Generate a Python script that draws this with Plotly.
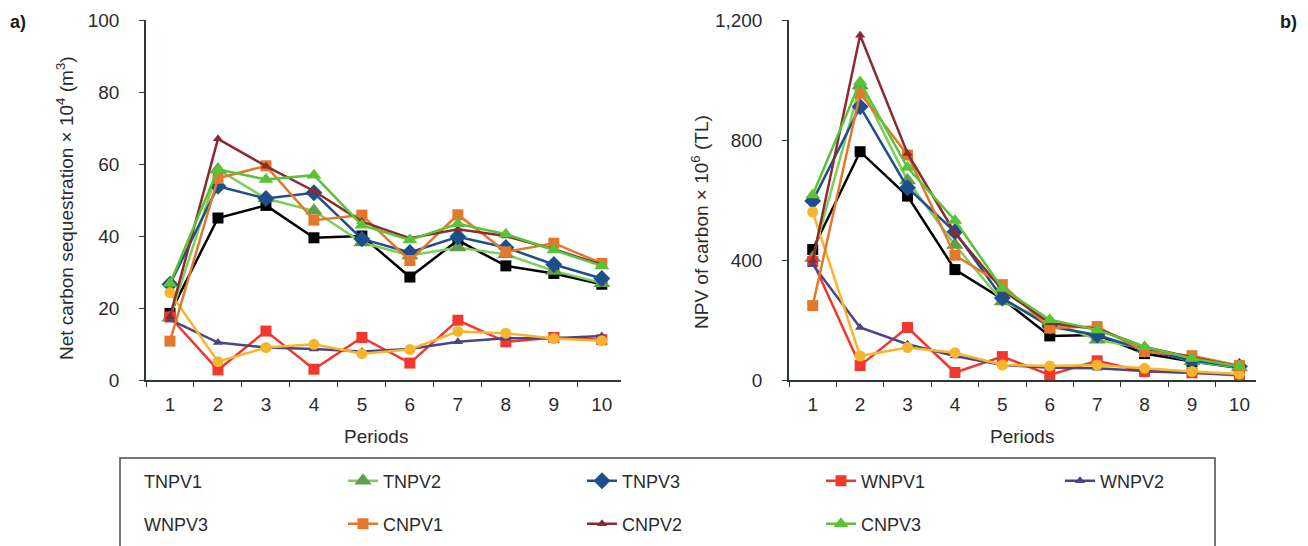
import plotly.graph_objects as go

W, H = 1308, 546

periods = ["1", "2", "3", "4", "5", "6", "7", "8", "9", "10"]
series_names = ["TNPV1", "TNPV2", "TNPV3", "WNPV1", "WNPV2", "WNPV3", "CNPV1", "CNPV2", "CNPV3"]

# a) Net carbon sequestration x 10^4 (m3)
seq_TNPV1 = [18.5, 45.0, 48.5, 39.5, 40.0, 28.6, 38.8, 31.7, 29.6, 26.6]
seq_TNPV2 = [17.3, 58.5, 50.4, 47.0, 38.2, 34.6, 36.8, 34.9, 30.3, 26.9]
seq_TNPV3 = [26.6, 53.8, 50.4, 52.0, 39.2, 35.4, 39.8, 36.8, 32.1, 28.2]
seq_WNPV1 = [17.5, 2.8, 13.6, 3.0, 11.8, 4.7, 16.6, 10.6, 11.8, 11.2]
seq_WNPV2 = [16.8, 10.4, 9.0, 8.6, 7.9, 8.6, 10.6, 11.6, 11.6, 12.2]
seq_WNPV3 = [24.3, 5.1, 9.0, 9.9, 7.3, 8.5, 13.5, 13.0, 11.5, 10.9]
seq_CNPV1 = [10.8, 56.0, 59.5, 44.4, 45.8, 33.2, 45.9, 35.6, 38.0, 32.4]
seq_CNPV2 = [17.6, 67.0, 59.4, 52.5, 44.0, 39.4, 41.9, 40.0, 36.3, 32.0]
seq_CNPV3 = [26.8, 58.5, 55.7, 56.9, 43.0, 38.9, 43.4, 40.5, 36.1, 31.7]

# b) NPV of carbon x 10^6 (TL)
npv_TNPV1 = [435, 761, 613, 368, 270, 147, 150, 88, 62, 40]
npv_TNPV2 = [407, 982, 665, 450, 262, 195, 134, 105, 62, 42]
npv_TNPV3 = [597, 911, 641, 494, 273, 178, 150, 100, 65, 45]
npv_WNPV1 = [395, 48, 175, 25, 78, 17, 64, 28, 24, 15]
npv_WNPV2 = [385, 175, 119, 80, 50, 41, 39, 30, 24, 18]
npv_WNPV3 = [560, 80, 108, 91, 50, 47, 50, 39, 28, 20]
npv_CNPV1 = [248, 956, 750, 416, 318, 173, 178, 95, 81, 48]
npv_CNPV2 = [398, 1149, 755, 490, 300, 190, 170, 110, 75, 45]
npv_CNPV3 = [617, 993, 708, 532, 305, 201, 167, 111, 72, 45]

seq_data = [seq_TNPV1, seq_TNPV2, seq_TNPV3, seq_WNPV1, seq_WNPV2, seq_WNPV3, seq_CNPV1, seq_CNPV2, seq_CNPV3]
npv_data = [npv_TNPV1, npv_TNPV2, npv_TNPV3, npv_WNPV1, npv_WNPV2, npv_WNPV3, npv_CNPV1, npv_CNPV2, npv_CNPV3]

line_colors = ["#000000", "#7fcd5c", "#1f4f8a", "#f2382c", "#4a4585", "#f7b52e", "#e2782c", "#8a2b33", "#5cc237"]
marker_colors = ["#000000", "#5f9e4a", "#1f4f8a", "#f2382c", "#4a4585", "#f7b52e", "#e2782c", "#8a2b33", "#5cc237"]
symbols = ["square", "triangle-up", "diamond", "square", "triangle-up", "circle", "square", "triangle-up", "triangle-up"]
sizes = [11, 15, 13, 11, 9, 11, 11, 9, 13]
legend_of = ["legend", "legend", "legend", "legend", "legend", "legend2", "legend2", "legend2", "legend2"]
no_symbol_in_legend = {"TNPV1", "WNPV3"}

FONT = "Liberation Sans, Arial, sans-serif"
TXT = "#2b2b2b"
AX = "#2d3838"

fig = go.Figure()

for i, name in enumerate(series_names):
    for data, xa, ya, first in ((seq_data[i], "x", "y", True), (npv_data[i], "x2", "y2", False)):
        fig.add_trace(go.Scatter(
            x=periods, y=data, xaxis=xa, yaxis=ya, name=name,
            mode="lines+markers",
            line=dict(color=line_colors[i], width=2.5),
            marker=dict(symbol=symbols[i], size=sizes[i], color=marker_colors[i]),
            legend=legend_of[i], legendrank=i + 1,
            showlegend=first and name not in no_symbol_in_legend,
        ))
    if name in no_symbol_in_legend:
        fig.add_trace(go.Scatter(
            x=[None], y=[None], name=name, mode="lines",
            line=dict(color="rgba(0,0,0,0)", width=2.5),
            legend=legend_of[i], legendrank=i + 1, showlegend=True, hoverinfo="skip",
        ))

def px_x(p):
    return p / W

def px_y(p):
    return 1 - p / H

tickfont = dict(family=FONT, size=19, color=TXT)
common_x = dict(type="category", tickson="boundaries", ticks="outside", ticklen=5, tickwidth=1.3,
                tickcolor=AX, showline=True, linecolor=AX, linewidth=1.5, showgrid=False,
                zeroline=False, tickfont=tickfont, ticklabelstandoff=6)
common_y = dict(ticks="outside", ticklen=5, tickwidth=1.3, tickcolor=AX, showline=True,
                linecolor=AX, linewidth=1.5, showgrid=False, zeroline=False, tickfont=tickfont,
                ticklabelstandoff=16)

legend_font = dict(family=FONT, size=18, color=TXT)

fig.update_layout(
    width=W, height=H,
    margin=dict(l=0, r=0, t=0, b=0, autoexpand=False),
    paper_bgcolor="white", plot_bgcolor="white",
    font=dict(family=FONT, size=18, color=TXT),
    xaxis=dict(domain=[px_x(146), px_x(621)], range=[-0.5, 9.4], anchor="y", **common_x),
    yaxis=dict(domain=[px_y(380), px_y(20)], range=[0, 100], dtick=20, anchor="x", **common_y),
    xaxis2=dict(domain=[px_x(789), px_x(1256)], range=[-0.5, 9.35], anchor="y2", **common_x),
    yaxis2=dict(domain=[px_y(380), px_y(20)], range=[0, 1200], tickvals=[0, 400, 800, 1200],
                tickformat=",", anchor="x2", **common_y),
    legend=dict(orientation="h", x=px_x(104), y=px_y(481), xanchor="left", yanchor="middle",
                entrywidth=194, font=legend_font,
                bgcolor="rgba(0,0,0,0)", traceorder="normal"),
    legend2=dict(orientation="h", x=px_x(104), y=px_y(524), xanchor="left", yanchor="middle",
                 entrywidth=194, font=legend_font,
                 bgcolor="rgba(0,0,0,0)", traceorder="normal"),
    showlegend=True,
)

ann = [
    dict(text="<b>a)</b>", x=px_x(8), y=px_y(22), xanchor="left", yanchor="middle",
         font=dict(size=18, color="#1a1a1a", family=FONT)),
    dict(text="<b>b)</b>", x=px_x(1299), y=px_y(22), xanchor="right", yanchor="middle",
         font=dict(size=18, color="#1a1a1a", family=FONT)),
    dict(text="Net carbon sequestration \u00d7 10<sup>4</sup> (m<sup>3</sup>)", x=px_x(65), y=px_y(208),
         textangle=-90, xanchor="center", yanchor="middle", font=dict(size=19, family=FONT, color=TXT)),
    dict(text="NPV of carbon \u00d7 10<sup>6</sup> (TL)", x=px_x(700), y=px_y(222),
         textangle=-90, xanchor="center", yanchor="middle", font=dict(size=19, family=FONT, color=TXT)),
    dict(text="Periods", x=px_x(376), y=px_y(436), xanchor="center", yanchor="middle",
         font=dict(size=19, family=FONT, color=TXT)),
    dict(text="Periods", x=px_x(1022), y=px_y(436), xanchor="center", yanchor="middle",
         font=dict(size=19, family=FONT, color=TXT)),
]
for a in ann:
    a.update(xref="paper", yref="paper", showarrow=False)
fig.update_layout(annotations=ann)

fig.add_shape(type="rect", xref="paper", yref="paper",
              x0=px_x(120), x1=px_x(1215), y0=px_y(560), y1=px_y(458),
              line=dict(color="#4a4a4a", width=1.5), fillcolor="rgba(0,0,0,0)")

fig.write_html("out.html", config={"displayModeBar": False},
               post_script="document.body.style.margin='0';document.body.style.overflow='hidden';")
